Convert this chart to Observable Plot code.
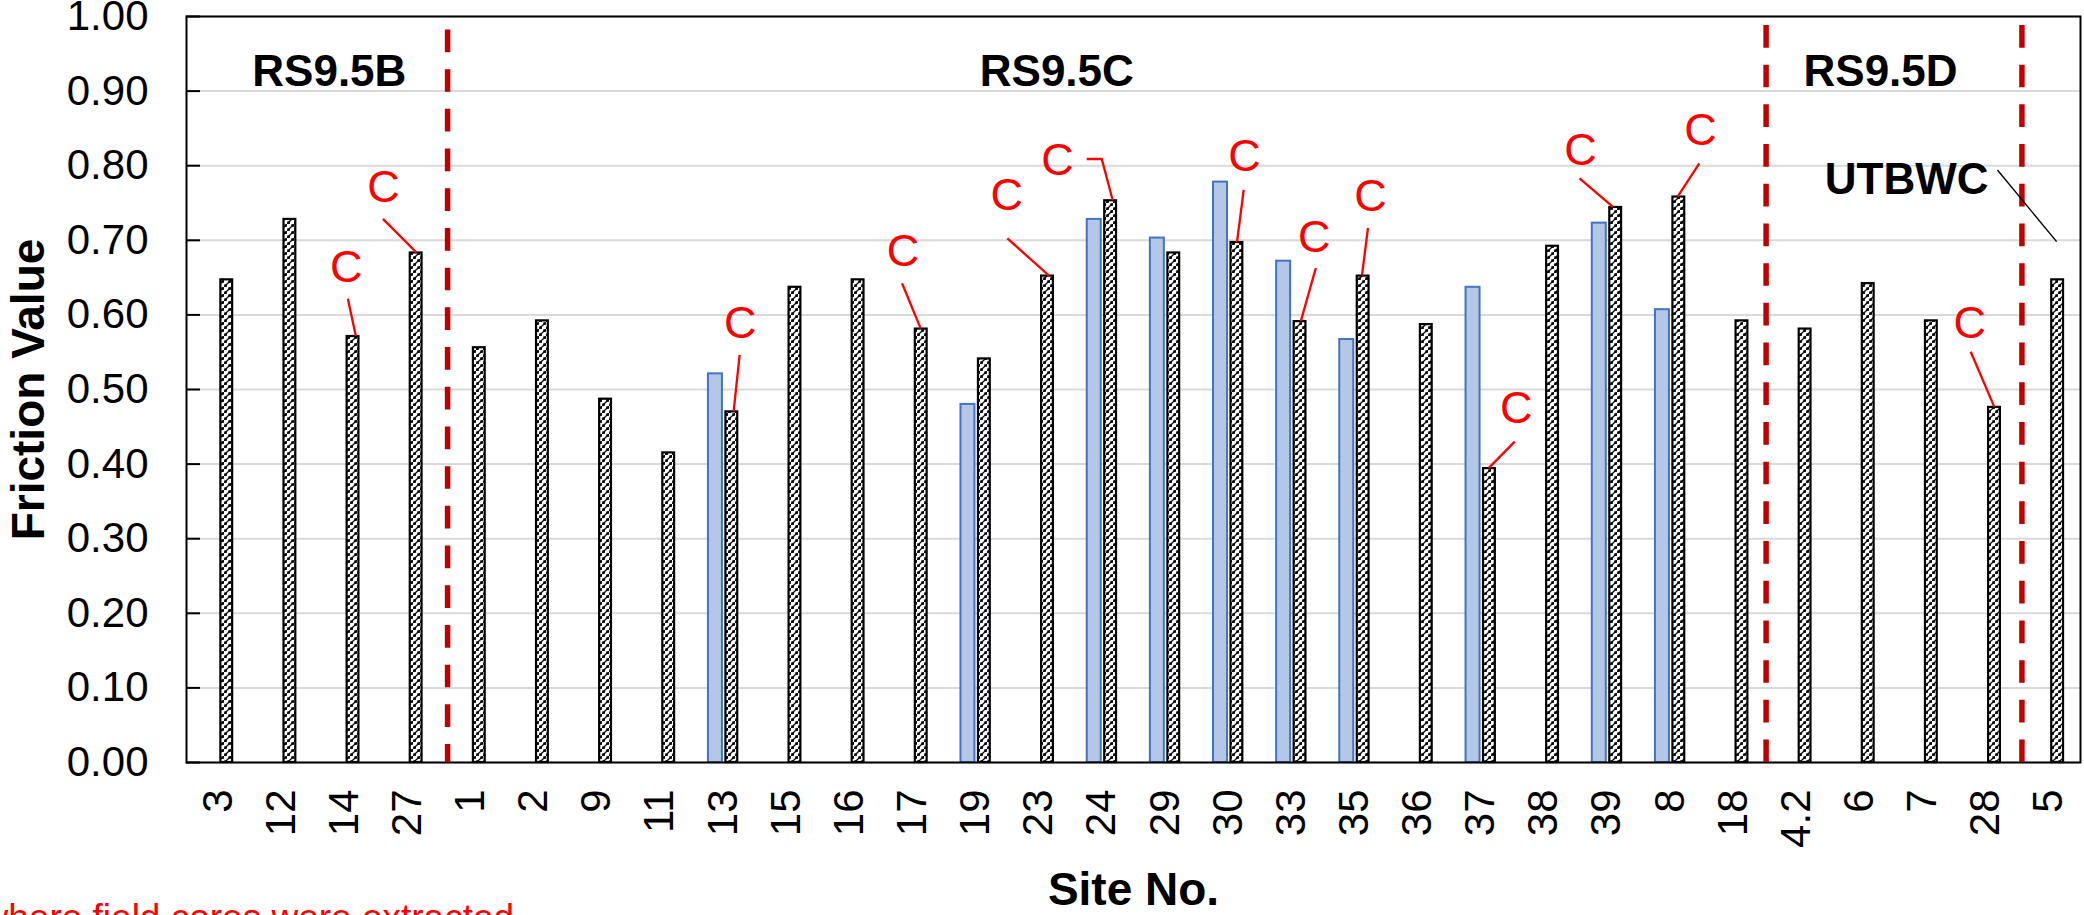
<!DOCTYPE html>
<html>
<head>
<meta charset="utf-8">
<script src="https://cdn.jsdelivr.net/npm/d3@7"></script>
<script src="https://cdn.jsdelivr.net/npm/@observablehq/plot@0.6"></script>
<style>
html, body { margin: 0; padding: 0; overflow: hidden; background: #fff; }
#chart svg { display: block; }
</style>
</head>
<body>
<div id="chart"></div>
<script>
// ---------- data ----------
const sites = ["3","12","14","27","1","2","9","11","13","15","16","17","19","23","24","29","30","33","35","36","37","38","39","8","18","4.2","6","7","28","5"];
const hatchedValues = [0.647,0.728,0.571,0.683,0.556,0.592,0.487,0.415,0.470,0.637,0.647,0.581,0.541,0.652,0.753,0.683,0.697,0.591,0.652,0.587,0.394,0.692,0.744,0.758,0.592,0.581,0.642,0.592,0.476,0.647];
const blueValues = [null,null,null,null,null,null,null,null,0.521,null,null,null,0.480,null,0.728,0.703,0.778,0.672,0.567,null,0.637,null,0.723,0.607,null,null,null,null,null,null];
const yTicks = [0,0.1,0.2,0.3,0.4,0.5,0.6,0.7,0.8,0.9,1.0];

// "C" annotations (cored sites)
const cSites    = ["14","27","13","17","23","24","30","33","35","37","39","8","28"];
const cLabelY   = [0.664,0.771,0.5885,0.685,0.760,0.807,0.812,0.704,0.759,0.4745,0.820,0.847,0.5885];
const cLabelDx  = [2,-24,17,-9.5,-32,-44.4,16.3,23,16,35.4,-26.5,30.4,-16];
const cLeaderPts = [
  [[4,0.621]],[[-24,0.728]],[[17,0.5456]],[[-10,0.6417]],[[-31,0.702]],
  [[-14.7,0.8083],[0.3,0.8083]],[[16,0.7668]],[[25,0.6622]],[[14,0.7158]],
  [[34.5,0.4294]],[[-27,0.7824]],[[29.7,0.8026]],[[-14.6,0.55]]
];
const cLeaderEndDx = [12,9.5,11,8.7,10.7,11.3,9.3,10,8,8.4,6.5,8,9];

// section labels
const sectionNames = ["RS9.5B","RS9.5C","RS9.5D","UTBWC"];
const sectionSites = ["14","23","6","7"];
const sectionDx    = [-15,18,21,-16];
const sectionY     = [0.926,0.926,0.926,0.7815];
const utbwcLeader  = {site: "5", pts: [[-51,0.7936],[8.2,0.6975]]};

// section dividers
const dividerSites = ["1","4.2","5"];
const dividerDx    = [-23,-30.3,-27];
const dividerTop   = [0.982,0.988,0.988];

// ---------- chart ----------
const W = 2084, H = 915, mL = 186, mR = 4, mT = 16, mB = 153;
const bw = (W - mL - mR) / sites.length;
const FONT = "Liberation Sans, Arial, Helvetica, sans-serif";
const NS = "http://www.w3.org/2000/svg";

const hatchedData = sites.map((s, i) => ({site: s, value: hatchedValues[i]}));
const blueData = sites.map((s, i) => ({site: s, value: blueValues[i]})).filter(d => d.value != null);

const defsMark = () => {
  const defs = document.createElementNS(NS, "defs");
  defs.innerHTML = `<pattern id="hatch" patternUnits="userSpaceOnUse" width="7" height="7">
    <rect width="7" height="7" fill="#fff"/>
    <path d="M-1,8 L8,-1" stroke="#111" stroke-width="1.3"/>
    <rect x="0.3" y="4.3" width="2.6" height="2.6" fill="#000"/>
    <rect x="4.3" y="0.3" width="2.6" height="2.6" fill="#000"/>
  </pattern>`;
  return defs;
};

const leaderMark = (index, scales) => {
  const x = scales.x, y = scales.y;
  const half = x.bandwidth() / 2;
  const g = document.createElementNS(NS, "g");
  cSites.forEach((s, i) => {
    const pts = [...cLeaderPts[i], [cLeaderEndDx[i], hatchedValues[sites.indexOf(s)]]];
    const d = pts.map(([dx, v], j) => `${j ? "L" : "M"}${x(s) + half + dx},${y(v)}`).join("");
    const p = document.createElementNS(NS, "path");
    p.setAttribute("d", d);
    p.setAttribute("fill", "none");
    p.setAttribute("stroke", "#ff0000");
    p.setAttribute("stroke-width", "2.3");
    g.appendChild(p);
  });
  const u = utbwcLeader;
  const d = u.pts.map(([dx, v], j) => `${j ? "L" : "M"}${x(u.site) + half + dx},${y(v)}`).join("");
  const p = document.createElementNS(NS, "path");
  p.setAttribute("d", d);
  p.setAttribute("fill", "none");
  p.setAttribute("stroke", "#000");
  p.setAttribute("stroke-width", "1.4");
  g.appendChild(p);
  return g;
};

const chart = Plot.plot({
  width: W, height: H,
  marginLeft: mL, marginRight: mR, marginTop: mT, marginBottom: mB,
  style: {fontFamily: FONT, background: "#fff", color: "#000"},
  x: {type: "band", domain: sites, padding: 0, round: false, axis: null},
  y: {domain: [0, 1], axis: null},
  marks: [
    defsMark,
    Plot.gridY({ticks: yTicks, stroke: "#d9d9d9", strokeOpacity: 1, strokeWidth: 2}),
    Plot.barY(blueData, {x: "site", y: "value", fill: "#b4c7e7", stroke: "#4472c4", strokeWidth: 2,
      insetLeft: bw / 2 - 14.7, insetRight: bw / 2 + 0.7}),
    Plot.barY(hatchedData, {x: "site", y: "value", fill: "url(#hatch)", stroke: "#000", strokeWidth: 2.2,
      insetLeft: bw / 2 + 2.8, insetRight: bw / 2 - 14.6}),
    Plot.frame({stroke: "#000", strokeWidth: 2}),
    ...dividerSites.map((s, i) => Plot.ruleX([{site: s, top: dividerTop[i]}], {
      x: "site", y1: "top", y2: () => 0, dx: dividerDx[i],
      stroke: "#c00000", strokeWidth: 5.5, strokeDasharray: "22.7 17"
    })),
    Plot.axisY({ticks: yTicks, tickSize: 14, dx: 14, fill: "none", stroke: "#000", strokeWidth: 2, label: null}),
    Plot.axisY({ticks: yTicks, tickSize: 0, tickPadding: 38, tickFormat: d3.format(".2f"),
      fontSize: 42, fontFamily: FONT, fill: "#000", label: null}),
    Plot.axisX({tickSize: 0, tickPadding: 27, tickRotate: -90, fontSize: 42, fontFamily: FONT, fill: "#000", label: null}),
    ...sectionNames.map((name, i) => Plot.text([{site: sectionSites[i], v: sectionY[i], t: name}], {
      x: "site", y: "v", text: "t", dx: sectionDx[i], fontSize: 44, fontWeight: "bold",
      fontFamily: FONT, fill: "#000", textAnchor: "middle", lineAnchor: "middle"
    })),
    ...cSites.map((s, i) => Plot.text([{site: s, v: cLabelY[i]}], {
      x: "site", y: "v", text: () => "C", dx: cLabelDx[i], fontSize: 45,
      fontFamily: FONT, fill: "#ff0000", textAnchor: "middle", lineAnchor: "middle"
    })),
    leaderMark,
    Plot.text(["Friction Value"], {frameAnchor: "left", rotate: -90, dx: -157, fontSize: 46,
      fontWeight: "bold", fontFamily: FONT, fill: "#000", textAnchor: "middle", lineAnchor: "middle"}),
    Plot.text(["Site No."], {frameAnchor: "bottom", dy: 110, fontSize: 46, fontWeight: "bold",
      fontFamily: FONT, fill: "#000", textAnchor: "middle", lineAnchor: "top"}),
    Plot.text(["where field cores were extracted"], {frameAnchor: "bottom-left", dx: -205, dy: 141,
      fontSize: 37, fontFamily: FONT, fill: "#ff0000", textAnchor: "start", lineAnchor: "top"})
  ]
});
document.getElementById("chart").appendChild(chart);
</script>
</body>
</html>
